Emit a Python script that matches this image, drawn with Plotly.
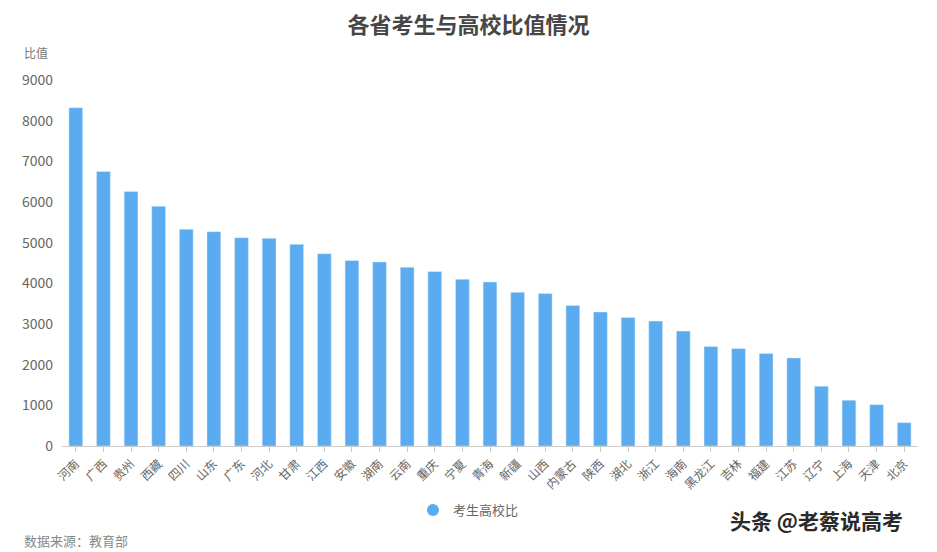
import plotly.graph_objects as go

provinces = ["河南", "广西", "贵州", "西藏", "四川", "山东", "广东", "河北", "甘肃", "江西",
             "安徽", "湖南", "云南", "重庆", "宁夏", "青海", "新疆", "山西", "内蒙古", "陕西",
             "湖北", "浙江", "海南", "黑龙江", "吉林", "福建", "江苏", "辽宁", "上海", "天津", "北京"]
ratios = [8317, 6750, 6256, 5896, 5330, 5271, 5123, 5108, 4960, 4730,
          4562, 4527, 4397, 4291, 4101, 4034, 3781, 3749, 3453, 3296,
          3160, 3071, 2825, 2446, 2397, 2273, 2167, 1470, 1126, 1017, 574]
y_ticks = [0, 1000, 2000, 3000, 4000, 5000, 6000, 7000, 8000, 9000]

FONT = "Noto Sans CJK SC"
BAR_COLOR = "#5AABF0"

fig = go.Figure()
fig.add_trace(go.Bar(
    x=provinces, y=ratios, name="考生高校比",
    marker=dict(color=BAR_COLOR), width=0.5, showlegend=False,
))
# legend entry with a round symbol
fig.add_trace(go.Scatter(
    x=[provinces[0]], y=[None], mode="markers", name="考生高校比",
    marker=dict(color=BAR_COLOR, size=12, symbol="circle"), showlegend=True,
))

fig.update_layout(
    width=937, height=552,
    margin=dict(l=62, r=19, t=80, b=106, autoexpand=False),
    paper_bgcolor="white", plot_bgcolor="white",
    font=dict(family=FONT, color="#666666"),
    title=dict(text="<b>各省考生与高校比值情况</b>", x=0.5, xanchor="center",
               y=0.955, yanchor="middle",
               font=dict(family=FONT, size=22, color="#464646")),
    showlegend=True,
    legend=dict(orientation="h", x=0.41, xanchor="left", y=-0.175, yanchor="middle",
                font=dict(family=FONT, size=13, color="#666666"),
                itemwidth=30),
    bargap=0.5,
)
fig.update_xaxes(
    type="category", range=[-0.5, len(provinces) - 0.5],
    tickangle=-45, tickfont=dict(family=FONT, size=12, color="#666666"),
    showline=True, linecolor="#CCCCCC", linewidth=1, automargin=False,
    ticks="outside", ticklen=5, tickcolor="#CCCCCC", showgrid=False,
)
fig.update_yaxes(
    range=[0, 9000], tickvals=y_ticks, ticktext=[str(v) for v in y_ticks],
    tickfont=dict(family=FONT, size=14, color="#666666"), automargin=False,
    showgrid=False, zeroline=False, showline=False, ticks="", ticklabelstandoff=8,
)

fig.add_annotation(text="比值", xref="paper", yref="paper", x=-0.047, y=1.074,
                   xanchor="left", yanchor="middle", showarrow=False,
                   font=dict(family=FONT, size=12, color="#777777"))
fig.add_annotation(text="数据来源：教育部", xref="paper", yref="paper", x=-0.047, y=-0.257,
                   xanchor="left", yanchor="middle", showarrow=False,
                   font=dict(family=FONT, size=13, color="#888888"))
fig.add_annotation(text="<b>头条 @老蔡说高考</b>", xref="paper", yref="paper", x=0.985, y=-0.202,
                   xanchor="right", yanchor="middle", showarrow=False,
                   font=dict(family=FONT, size=21, color="#2a2a2a"))

fig.write_html("out.html")
